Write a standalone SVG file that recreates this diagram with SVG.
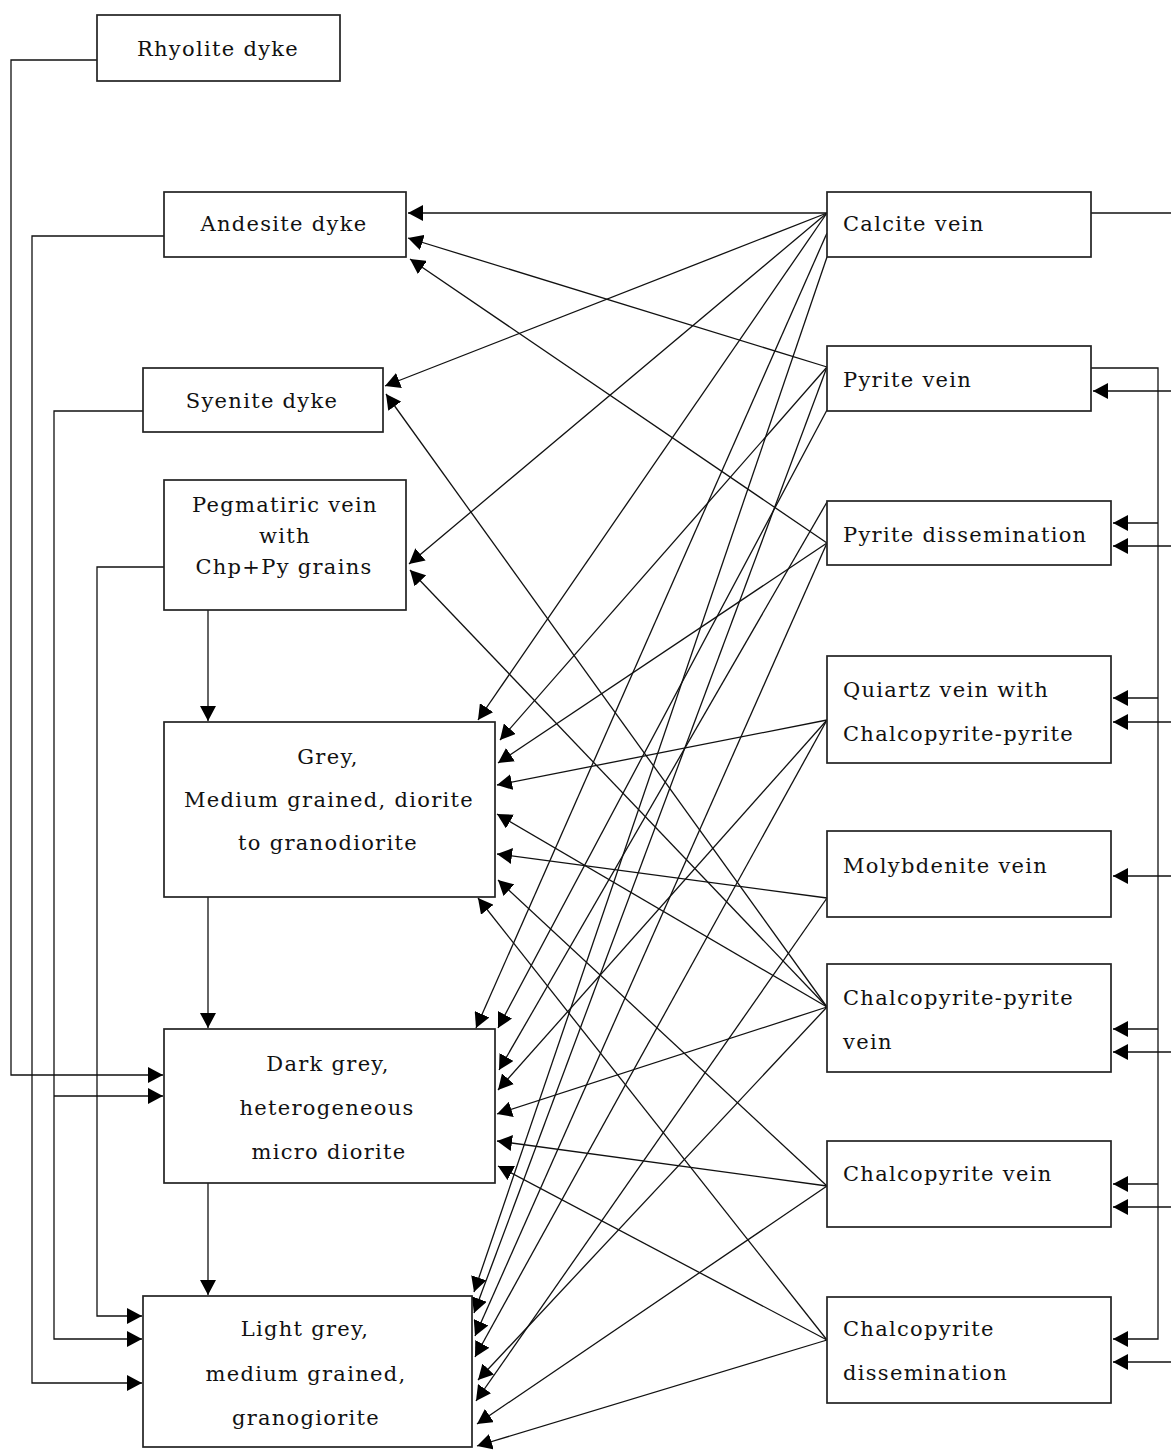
<svg xmlns="http://www.w3.org/2000/svg" width="1171" height="1450" viewBox="0 0 1171 1450">
<defs>
<marker id="ah" markerUnits="userSpaceOnUse" markerWidth="16" markerHeight="16" refX="15" refY="8" orient="auto" viewBox="0 0 16 16">
<path d="M0,0 L15,8 L0,16 z" fill="#000"/>
</marker>
</defs>
<style>
.box{fill:#fff;stroke:#222;stroke-width:1.7}
.t{font-family:"DejaVu Serif","Liberation Serif",serif;font-size:21px;letter-spacing:1.3px;fill:#111}
.c{text-anchor:middle}
.ln{fill:none;stroke:#111;stroke-width:1.3}
.ar{marker-end:url(#ah)}
</style>
<rect width="1171" height="1450" fill="#fff"/>
<g id="connectors">
<path class="ln ar" d="M97,60 H11 V1075 H163"/>
<path class="ln ar" d="M164,236 H32 V1383 H142"/>
<path class="ln ar" d="M143,411 H54 V1339 H142"/>
<path class="ln ar" d="M54,1096 H163"/>
<path class="ln ar" d="M164,567 H97 V1316 H142"/>
<path class="ln ar" d="M208,610 V721"/>
<path class="ln ar" d="M208,897 V1028"/>
<path class="ln ar" d="M208,1183 V1295"/>
<path class="ln" d="M1091,213 H1171"/>
<path class="ln ar" d="M1091,368 H1158 V1339 H1113"/>
<path class="ln ar" d="M1158,523 H1113"/>
<path class="ln ar" d="M1158,698 H1113"/>
<path class="ln ar" d="M1158,1029 H1113"/>
<path class="ln ar" d="M1158,1184 H1113"/>
<path class="ln ar" d="M1171,391 H1093"/>
<path class="ln ar" d="M1171,546 H1113"/>
<path class="ln ar" d="M1171,722 H1113"/>
<path class="ln ar" d="M1171,876 H1113"/>
<path class="ln ar" d="M1171,1052 H1113"/>
<path class="ln ar" d="M1171,1207 H1113"/>
<path class="ln ar" d="M1171,1362 H1113"/>
<path class="ln ar" d="M827,213 L408,213"/>
<path class="ln ar" d="M827,213 L385,386"/>
<path class="ln ar" d="M827,213 L409,564"/>
<path class="ln ar" d="M827,213 L478,720"/>
<path class="ln ar" d="M827,233 L476,1028"/>
<path class="ln ar" d="M827,257 L474,1292"/>
<path class="ln ar" d="M827,367 L408,238"/>
<path class="ln ar" d="M827,367 L500,740"/>
<path class="ln ar" d="M827,410 L498,1028"/>
<path class="ln ar" d="M827,367 L474,1313"/>
<path class="ln ar" d="M827,543 L410,259"/>
<path class="ln ar" d="M827,543 L498,763"/>
<path class="ln ar" d="M827,502 L499,1070"/>
<path class="ln ar" d="M827,543 L475,1336"/>
<path class="ln ar" d="M827,720 L497,785"/>
<path class="ln ar" d="M827,720 L498,1090"/>
<path class="ln ar" d="M827,720 L475,1357"/>
<path class="ln ar" d="M827,898 L497,854"/>
<path class="ln ar" d="M827,898 L476,1401"/>
<path class="ln ar" d="M827,1007 L386,394"/>
<path class="ln ar" d="M827,1007 L410,570"/>
<path class="ln ar" d="M827,1007 L497,814"/>
<path class="ln ar" d="M827,1007 L497,1114"/>
<path class="ln ar" d="M827,1007 L478,1380"/>
<path class="ln ar" d="M827,1186 L498,880"/>
<path class="ln ar" d="M827,1186 L497,1141"/>
<path class="ln ar" d="M827,1186 L477,1424"/>
<path class="ln ar" d="M827,1340 L478,898"/>
<path class="ln ar" d="M827,1340 L498,1166"/>
<path class="ln ar" d="M827,1340 L477,1446"/>
</g>
<g id="rhyolite"><rect class="box" x="97" y="15" width="243" height="66"/><text class="t c" x="218" y="56">Rhyolite dyke</text></g>
<g id="andesite"><rect class="box" x="164" y="192" width="242" height="65"/><text class="t c" x="284" y="231">Andesite dyke</text></g>
<g id="syenite"><rect class="box" x="143" y="368" width="240" height="64"/><text class="t c" x="262" y="408">Syenite dyke</text></g>
<g id="pegmatitic"><rect class="box" x="164" y="480" width="242" height="130"/><text class="t c" x="285" y="512">Pegmatiric vein</text><text class="t c" x="285" y="543">with</text><text class="t c" x="284" y="574">Chp+Py grains</text></g>
<g id="grey"><rect class="box" x="164" y="722" width="331" height="175"/><text class="t c" x="328" y="764">Grey,</text><text class="t c" x="329" y="807">Medium grained, diorite</text><text class="t c" x="328" y="850">to granodiorite</text></g>
<g id="darkgrey"><rect class="box" x="164" y="1029" width="331" height="154"/><text class="t c" x="328" y="1071">Dark grey,</text><text class="t c" x="327" y="1115">heterogeneous</text><text class="t c" x="329" y="1159">micro diorite</text></g>
<g id="lightgrey"><rect class="box" x="143" y="1296" width="329" height="151"/><text class="t c" x="305" y="1336">Light grey,</text><text class="t c" x="306" y="1381">medium grained,</text><text class="t c" x="306" y="1425">granogiorite</text></g>
<g id="calcite"><rect class="box" x="827" y="192" width="264" height="65"/><text class="t" x="843" y="231">Calcite vein</text></g>
<g id="pyritevein"><rect class="box" x="827" y="346" width="264" height="65"/><text class="t" x="843" y="387">Pyrite vein</text></g>
<g id="pyritediss"><rect class="box" x="827" y="501" width="284" height="64"/><text class="t" x="843" y="542">Pyrite dissemination</text></g>
<g id="quartz"><rect class="box" x="827" y="656" width="284" height="107"/><text class="t" x="843" y="697">Quiartz vein with</text><text class="t" x="843" y="741">Chalcopyrite-pyrite</text></g>
<g id="molybdenite"><rect class="box" x="827" y="831" width="284" height="86"/><text class="t" x="843" y="873">Molybdenite vein</text></g>
<g id="chpyvein"><rect class="box" x="827" y="964" width="284" height="108"/><text class="t" x="843" y="1005">Chalcopyrite-pyrite</text><text class="t" x="843" y="1049">vein</text></g>
<g id="chalcovein"><rect class="box" x="827" y="1141" width="284" height="86"/><text class="t" x="843" y="1181">Chalcopyrite vein</text></g>
<g id="chalcodiss"><rect class="box" x="827" y="1297" width="284" height="106"/><text class="t" x="843" y="1336">Chalcopyrite</text><text class="t" x="843" y="1380">dissemination</text></g>
</svg>
